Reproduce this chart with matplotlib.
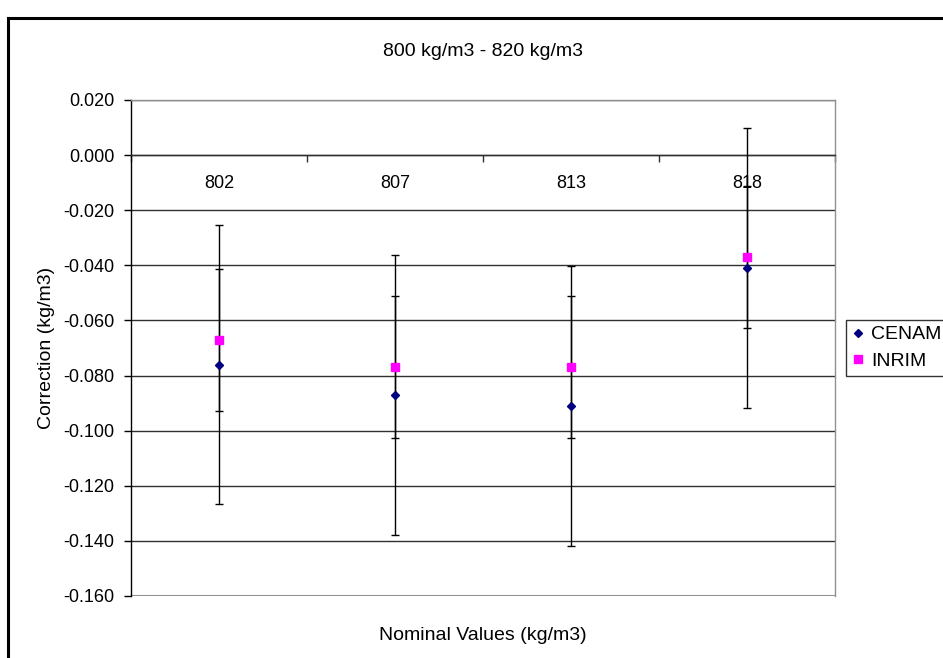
import matplotlib
matplotlib.use("Agg")
import matplotlib.pyplot as plt
from matplotlib.lines import Line2D
import numpy as np

plt.rcParams['font.family'] = ['Liberation Sans', 'DejaVu Sans']

categories = ["802", "807", "813", "818"]
cenam = [-0.076, -0.087, -0.091, -0.041]
cenam_err = [0.0507, 0.0507, 0.0507, 0.0507]
inrim = [-0.067, -0.077, -0.077, -0.037]
inrim_err = [0.0257, 0.0257, 0.0257, 0.0257]
yticks = [0.020, 0.000, -0.020, -0.040, -0.060, -0.080, -0.100, -0.120, -0.140, -0.160]

W, H = 943, 658
fig = plt.figure(figsize=(W / 100, H / 100), dpi=100)
fig.patch.set_facecolor('white')
ax = fig.add_axes([131 / W, 1 - 596 / H, (835 - 131) / W, (596 - 100) / H])

x = np.arange(len(categories))

# gridlines
ax.set_yticks(yticks)
ax.yaxis.grid(True, color='#303030', linewidth=1.0)
ax.set_axisbelow(True)

ax.errorbar(x, cenam, yerr=cenam_err, fmt='none', ecolor='black', elinewidth=1.0,
            capsize=3, capthick=1.0, zorder=3)
ax.errorbar(x, inrim, yerr=inrim_err, fmt='none', ecolor='black', elinewidth=1.0,
            capsize=3, capthick=1.0, zorder=3)
ax.plot(x, cenam, linestyle='none', marker='D', markersize=4.5, color='#000080',
        markeredgecolor='#000080', label='CENAM', zorder=4)
ax.plot(x, inrim, linestyle='none', marker='s', markersize=6, color='#FF00FF',
        markeredgecolor='#FF00FF', label='INRIM', zorder=4)

ax.set_xlim(-0.5, len(categories) - 0.5)
ax.set_ylim(-0.160, 0.020)
ax.set_yticklabels([f"{v:.3f}" for v in yticks], fontsize=13)
ax.tick_params(axis='y', direction='out', length=5, width=1, pad=7, color='black')

# x axis at zero
ax.spines['bottom'].set_position(('data', 0))
ax.spines['bottom'].set_color('#303030')
ax.spines['left'].set_color('black')
ax.spines['top'].set_color('#909090')
ax.spines['right'].set_color('#909090')
for s in ax.spines.values():
    s.set_linewidth(1.0)
ax.set_xticks(x)
ax.set_xticklabels(categories, fontsize=13)
ax.tick_params(axis='x', which='major', length=0, pad=14)
ax.set_xticks(np.arange(len(categories) + 1) - 0.5, minor=True)
ax.tick_params(axis='x', which='minor', direction='out', length=5, width=1, color='#303030')

# bottom border of plot area
ax.axhline(-0.160, color='#909090', linewidth=1.5, zorder=1)

ax.set_title("800 kg/m3 - 820 kg/m3", fontsize=14, pad=32)
ax.set_ylabel("Correction (kg/m3)", fontsize=14, labelpad=6)
fig.text(483 / W, 1 - 635 / H, "Nominal Values (kg/m3)", fontsize=14, ha='center', va='center')

leg = fig.legend(loc='upper left', bbox_to_anchor=(846 / W, 1 - 320 / H), fontsize=14,
                 frameon=True, fancybox=False, edgecolor='black', handlelength=0.6,
                 handletextpad=0.4, borderpad=0.3, labelspacing=0.45, borderaxespad=0)
leg.get_frame().set_linewidth(1.0)

# outer chart frame
fig.add_artist(Line2D([8 / W, 1.0], [1 - 18 / H, 1 - 18 / H], color='black', linewidth=2.2))
fig.add_artist(Line2D([8 / W, 8 / W], [0.0, 1 - 18 / H], color='black', linewidth=2.2))

fig.savefig("out.png", dpi=100, facecolor='white')
